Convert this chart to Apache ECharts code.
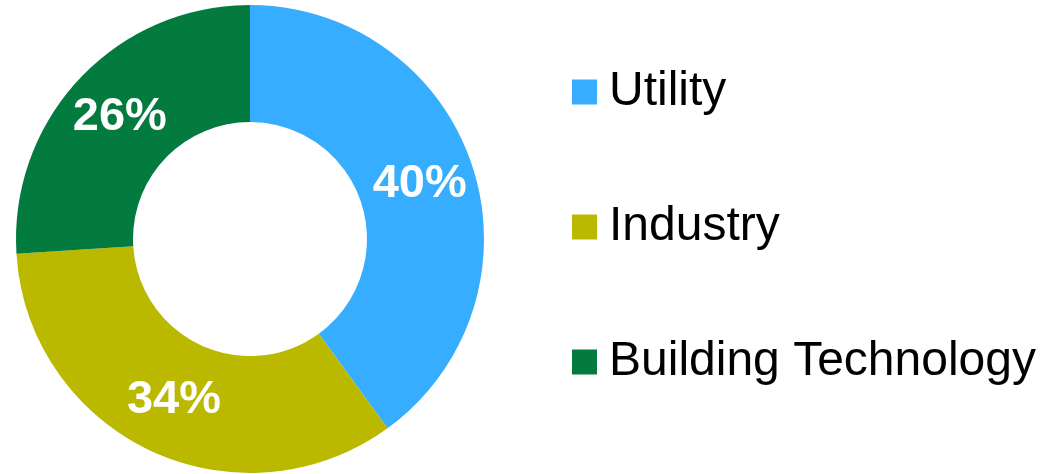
<!DOCTYPE html>
<html>
<head>
<meta charset="utf-8">
<script src="https://cdn.jsdelivr.net/npm/echarts@6/dist/echarts.min.js"></script>
<style>
  html, body { margin: 0; padding: 0; background: #fff; }
  #chart { width: 1044px; height: 474px; }
</style>
</head>
<body>
<div id="chart"></div>
<script>
var segNames = ['Utility', 'Industry', 'Building Technology'];
var segShares = [40, 34, 26];
var segColors = ['#37ADFF', '#BAB900', '#037B3F'];

var myChart = echarts.init(document.getElementById('chart'));
var pieData = [];
for (var i = 0; i < segNames.length; i++) {
  pieData.push({ name: segNames[i], value: segShares[i], itemStyle: { color: segColors[i] } });
}

var option = {
  animation: false,
  legend: {
    orient: 'vertical',
    left: 572,
    top: 68,
    padding: 0,
    icon: 'rect',
    itemWidth: 25,
    itemHeight: 25,
    itemGap: 87,
    selectedMode: false,
    textStyle: {
      fontFamily: 'Liberation Sans, Arial, sans-serif',
      fontSize: 48,
      lineHeight: 48,
      color: '#000',
      padding: [0, 0, 0, 7]
    },
    data: segNames
  },
  series: [
    {
      type: 'pie',
      center: [250, 239],
      radius: [117, 234],
      startAngle: 90,
      clockwise: true,
      itemStyle: { borderWidth: 0 },
      label: {
        show: true,
        position: 'inside',
        formatter: '{d}%',
        color: '#fff',
        fontWeight: 'bold',
        fontSize: 47,
        padding: [6, 0, 0, 0],
        fontFamily: 'Liberation Sans, Arial, sans-serif'
      },
      labelLine: { show: false },
      emphasis: { disabled: true },
      data: pieData
    }
  ]
};
myChart.setOption(option);
window.addEventListener('resize', function () {
  myChart.resize();
});
</script>
</body>
</html>
